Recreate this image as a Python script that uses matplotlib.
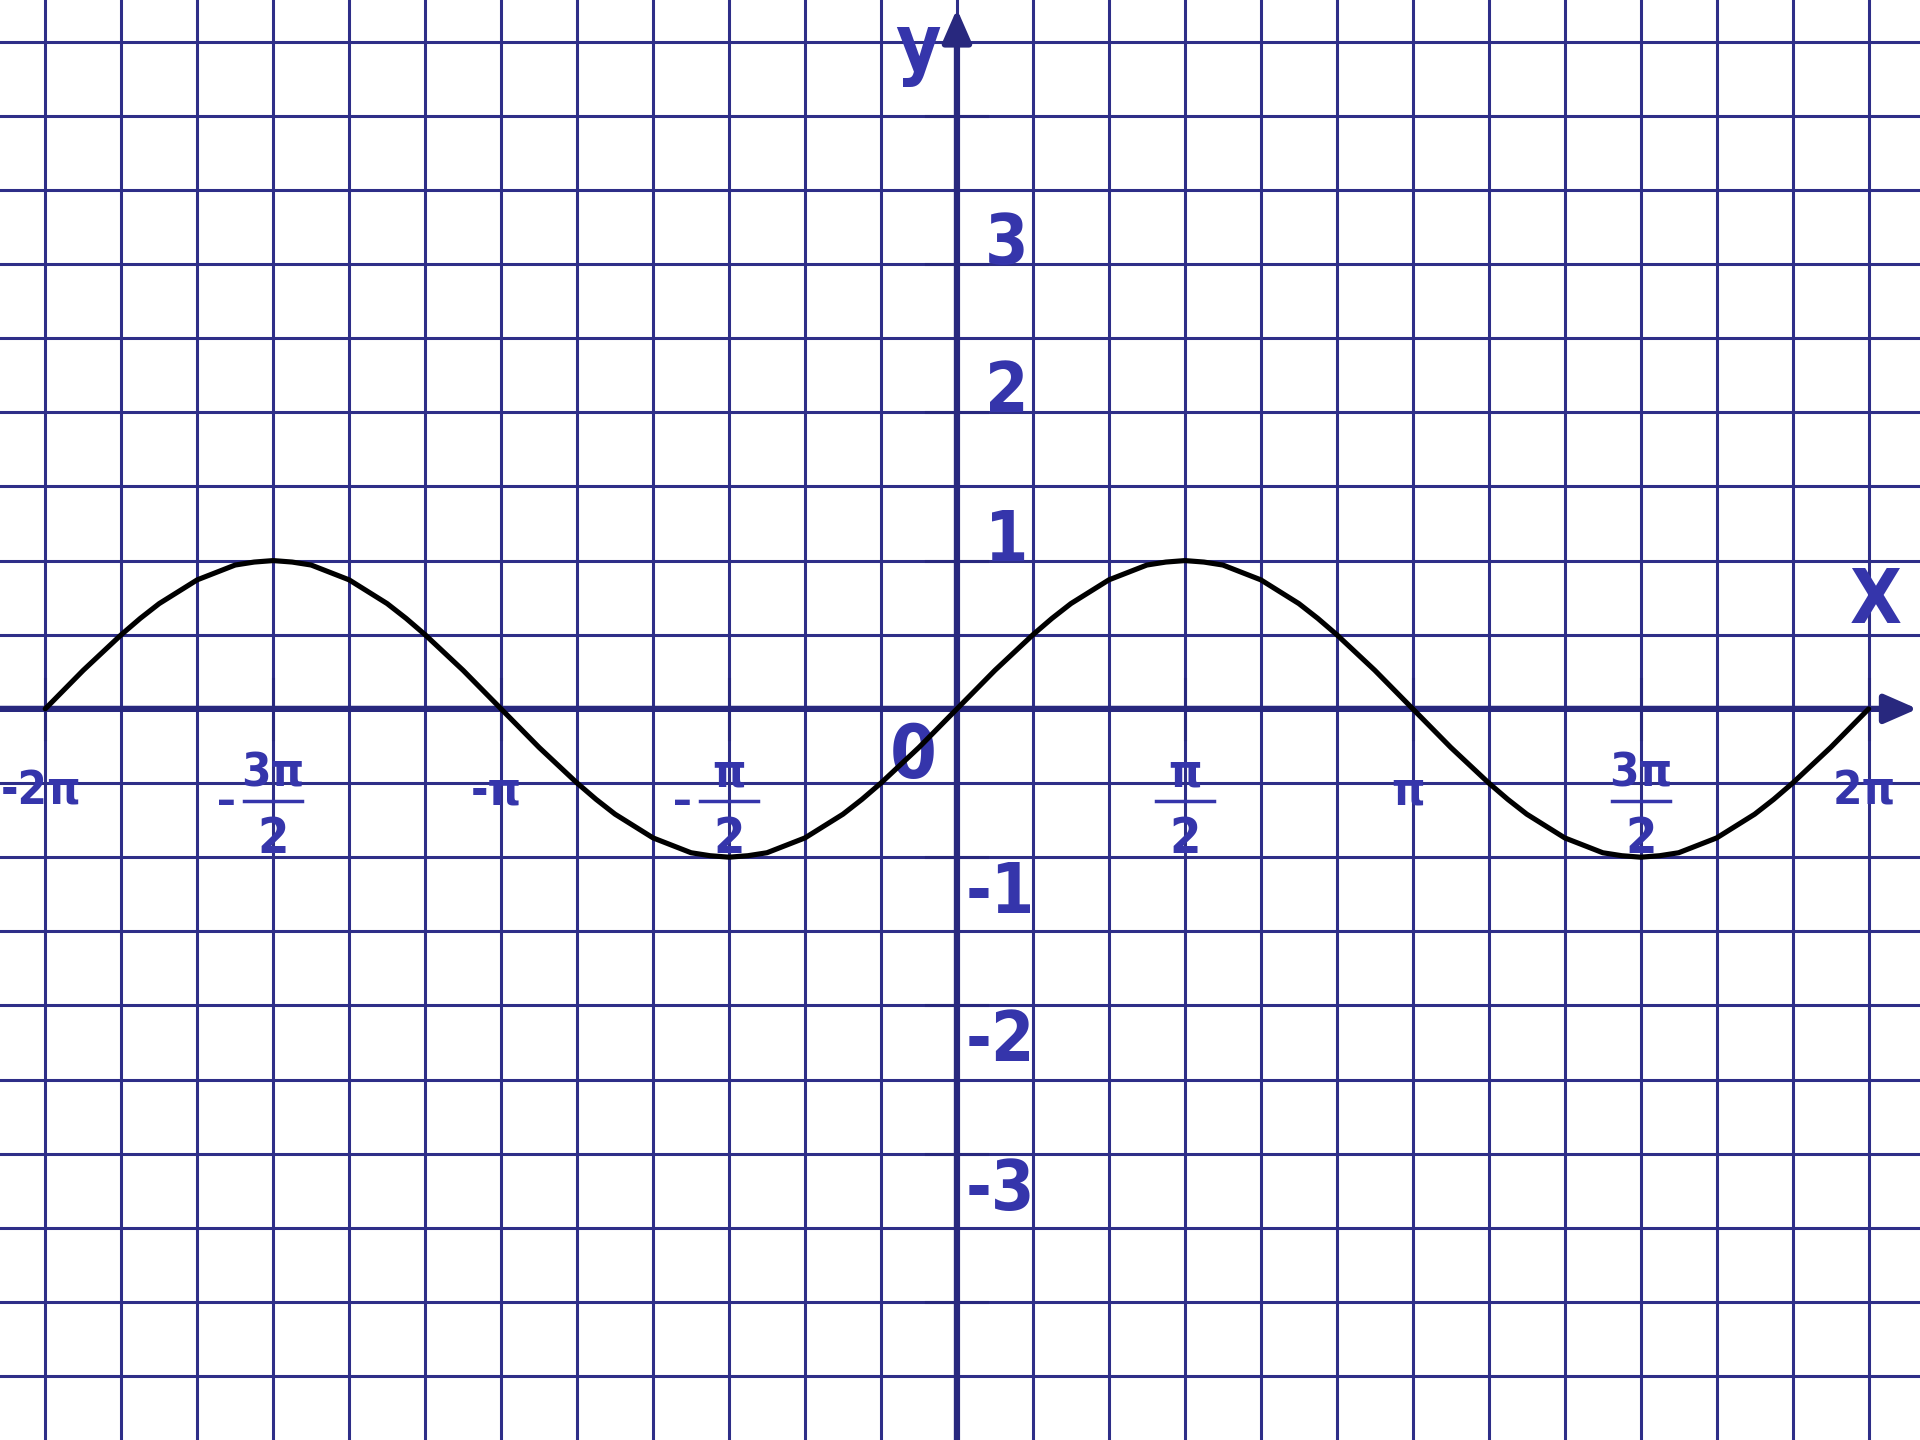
import numpy as np
import matplotlib
matplotlib.use("Agg")
import matplotlib.pyplot as plt
from matplotlib import font_manager

# ---------------- data ----------------
# curve samples: x in units of pi/24, y
x_24ths = list(range(-48, 49))
y_values = [
    0.00, 0.13, 0.26, 0.38, 0.50, 0.61, 0.71, 0.79, 0.87, 0.92, 0.97, 0.99,
    1.00, 0.99, 0.97, 0.92, 0.87, 0.79, 0.71, 0.61, 0.50, 0.38, 0.26, 0.13,
    0.00, -0.13, -0.26, -0.38, -0.50, -0.61, -0.71, -0.79, -0.87, -0.92, -0.97, -0.99,
    -1.00, -0.99, -0.97, -0.92, -0.87, -0.79, -0.71, -0.61, -0.50, -0.38, -0.26, -0.13,
    0.00, 0.13, 0.26, 0.38, 0.50, 0.61, 0.71, 0.79, 0.87, 0.92, 0.97, 0.99,
    1.00, 0.99, 0.97, 0.92, 0.87, 0.79, 0.71, 0.61, 0.50, 0.38, 0.26, 0.13,
    0.00, -0.13, -0.26, -0.38, -0.50, -0.61, -0.71, -0.79, -0.87, -0.92, -0.97, -0.99,
    -1.00, -0.99, -0.97, -0.92, -0.87, -0.79, -0.71, -0.61, -0.50, -0.38, -0.26, -0.13,
    0.00]

# x-axis labels (positions in units of pi/2)
x_label_pos = [-4, -3, -2, -1, 1, 2, 3, 4]
x_label_num = ['-2π', '3π', '-π', 'π', 'π', 'π', '3π', '2π']
x_label_den = ['', '2', '', '2', '2', '', '2', '']
x_label_neg = [False, True, False, True, False, False, False, False]

# y-axis ticks and labels
y_tick_values = [-4, -3, -2, -1, 1, 2, 3, 4]
y_label_values = [3, 2, 1, -1, -2, -3]
y_label_texts = ['3', '2', '1', '-1', '-2', '-3']

# grid: x every pi/6, y every 0.5
x_grid_sixths = list(range(-12, 13))
y_grid_halves = list(range(-9, 10))

# ---------------- style ----------------
GRID = '#2e2e88'
AXIS = '#28287e'
TEXT = '#3535ab'

names = {f.name for f in font_manager.fontManager.ttflist}
if 'Liberation Sans Narrow' in names:
    FAM = ['Liberation Sans Narrow', 'DejaVu Sans']
    STRETCH = 'normal'
elif 'DejaVu Sans Condensed' in names:
    FAM = ['DejaVu Sans Condensed', 'DejaVu Sans']
    STRETCH = 'condensed'
else:
    FAM = ['DejaVu Sans']
    STRETCH = 'condensed'
plt.rcParams['font.family'] = FAM
TXT = dict(color=TEXT, fontweight='bold', fontstretch=STRETCH, zorder=4)

fig = plt.figure(figsize=(19.2, 14.4), dpi=100)
ax = fig.add_axes([0, 0, 1, 1])
ax.set_xlim(-6.595, 6.637)
ax.set_ylim(-4.93, 4.78)
ax.set_facecolor('white')
for s in ax.spines.values():
    s.set_visible(False)
ax.set_xticks([])
ax.set_yticks([])

# grid lines
for k in x_grid_sixths:
    ax.axvline(k * np.pi / 6, color=GRID, lw=2.2, zorder=1)
for j in y_grid_halves:
    if j != 0:
        ax.axhline(j * 0.5, color=GRID, lw=2.2, zorder=1)

# axes with arrows
arrow = dict(arrowstyle='-|>,head_length=0.8,head_width=0.35',
             color=AXIS, lw=4.5, mutation_scale=25, shrinkA=0, shrinkB=0)
ax.annotate('', xy=(6.62, 0), xytext=(-6.7, 0), arrowprops=arrow, zorder=2)
ax.annotate('', xy=(0, 4.72), xytext=(0, -5.0), arrowprops=arrow, zorder=2)

# tick marks
for p in x_label_pos:
    xp = p * np.pi / 2
    ax.plot([xp, xp], [-0.2, 0.2], color=AXIS, lw=2.2, zorder=2)
for v in y_tick_values:
    ax.plot([-0.21, 0.21], [v, v], color=AXIS, lw=2.2, zorder=2)

# x labels
for p, num, den, neg in zip(x_label_pos, x_label_num, x_label_den, x_label_neg):
    xp = p * np.pi / 2
    if den:
        ax.text(xp, -0.44, num, fontsize=34, ha='center', va='center', **TXT)
        ax.plot([xp - 0.2, xp + 0.2], [-0.62, -0.62], color=TEXT, lw=2.5, zorder=4)
        ax.text(xp, -0.88, den, fontsize=36, ha='center', va='center', **TXT)
        if neg:
            ax.text(xp - 0.32, -0.63, '–', fontsize=30, ha='center', va='center', **TXT)
    else:
        ax.text(xp - 0.03, -0.56, num, fontsize=34, ha='center', va='center', **TXT)

# y labels
for v, t in zip(y_label_values, y_label_texts):
    if v > 0:
        ax.text(0.34, v, t, fontsize=50, ha='center', va='baseline', **TXT)
    else:
        ax.text(0.30, v - 0.02, t, fontsize=50, ha='center', va='top', **TXT)

# origin and axis names
ax.text(-0.30, -0.33, '0', fontsize=54, ha='center', va='center', **TXT)
ax.text(2 * np.pi + 0.05, 0.72, 'X', fontsize=54, ha='center', va='center', **TXT)
ax.text(-0.27, 4.45, 'y', fontsize=56, ha='center', va='center', **TXT)

# curve
xs = np.array(x_24ths) * np.pi / 24
ax.plot(xs, y_values, color='black', lw=3.7, zorder=5,
        solid_joinstyle='round', solid_capstyle='round')

fig.savefig('out.png', dpi=100, facecolor='white')
